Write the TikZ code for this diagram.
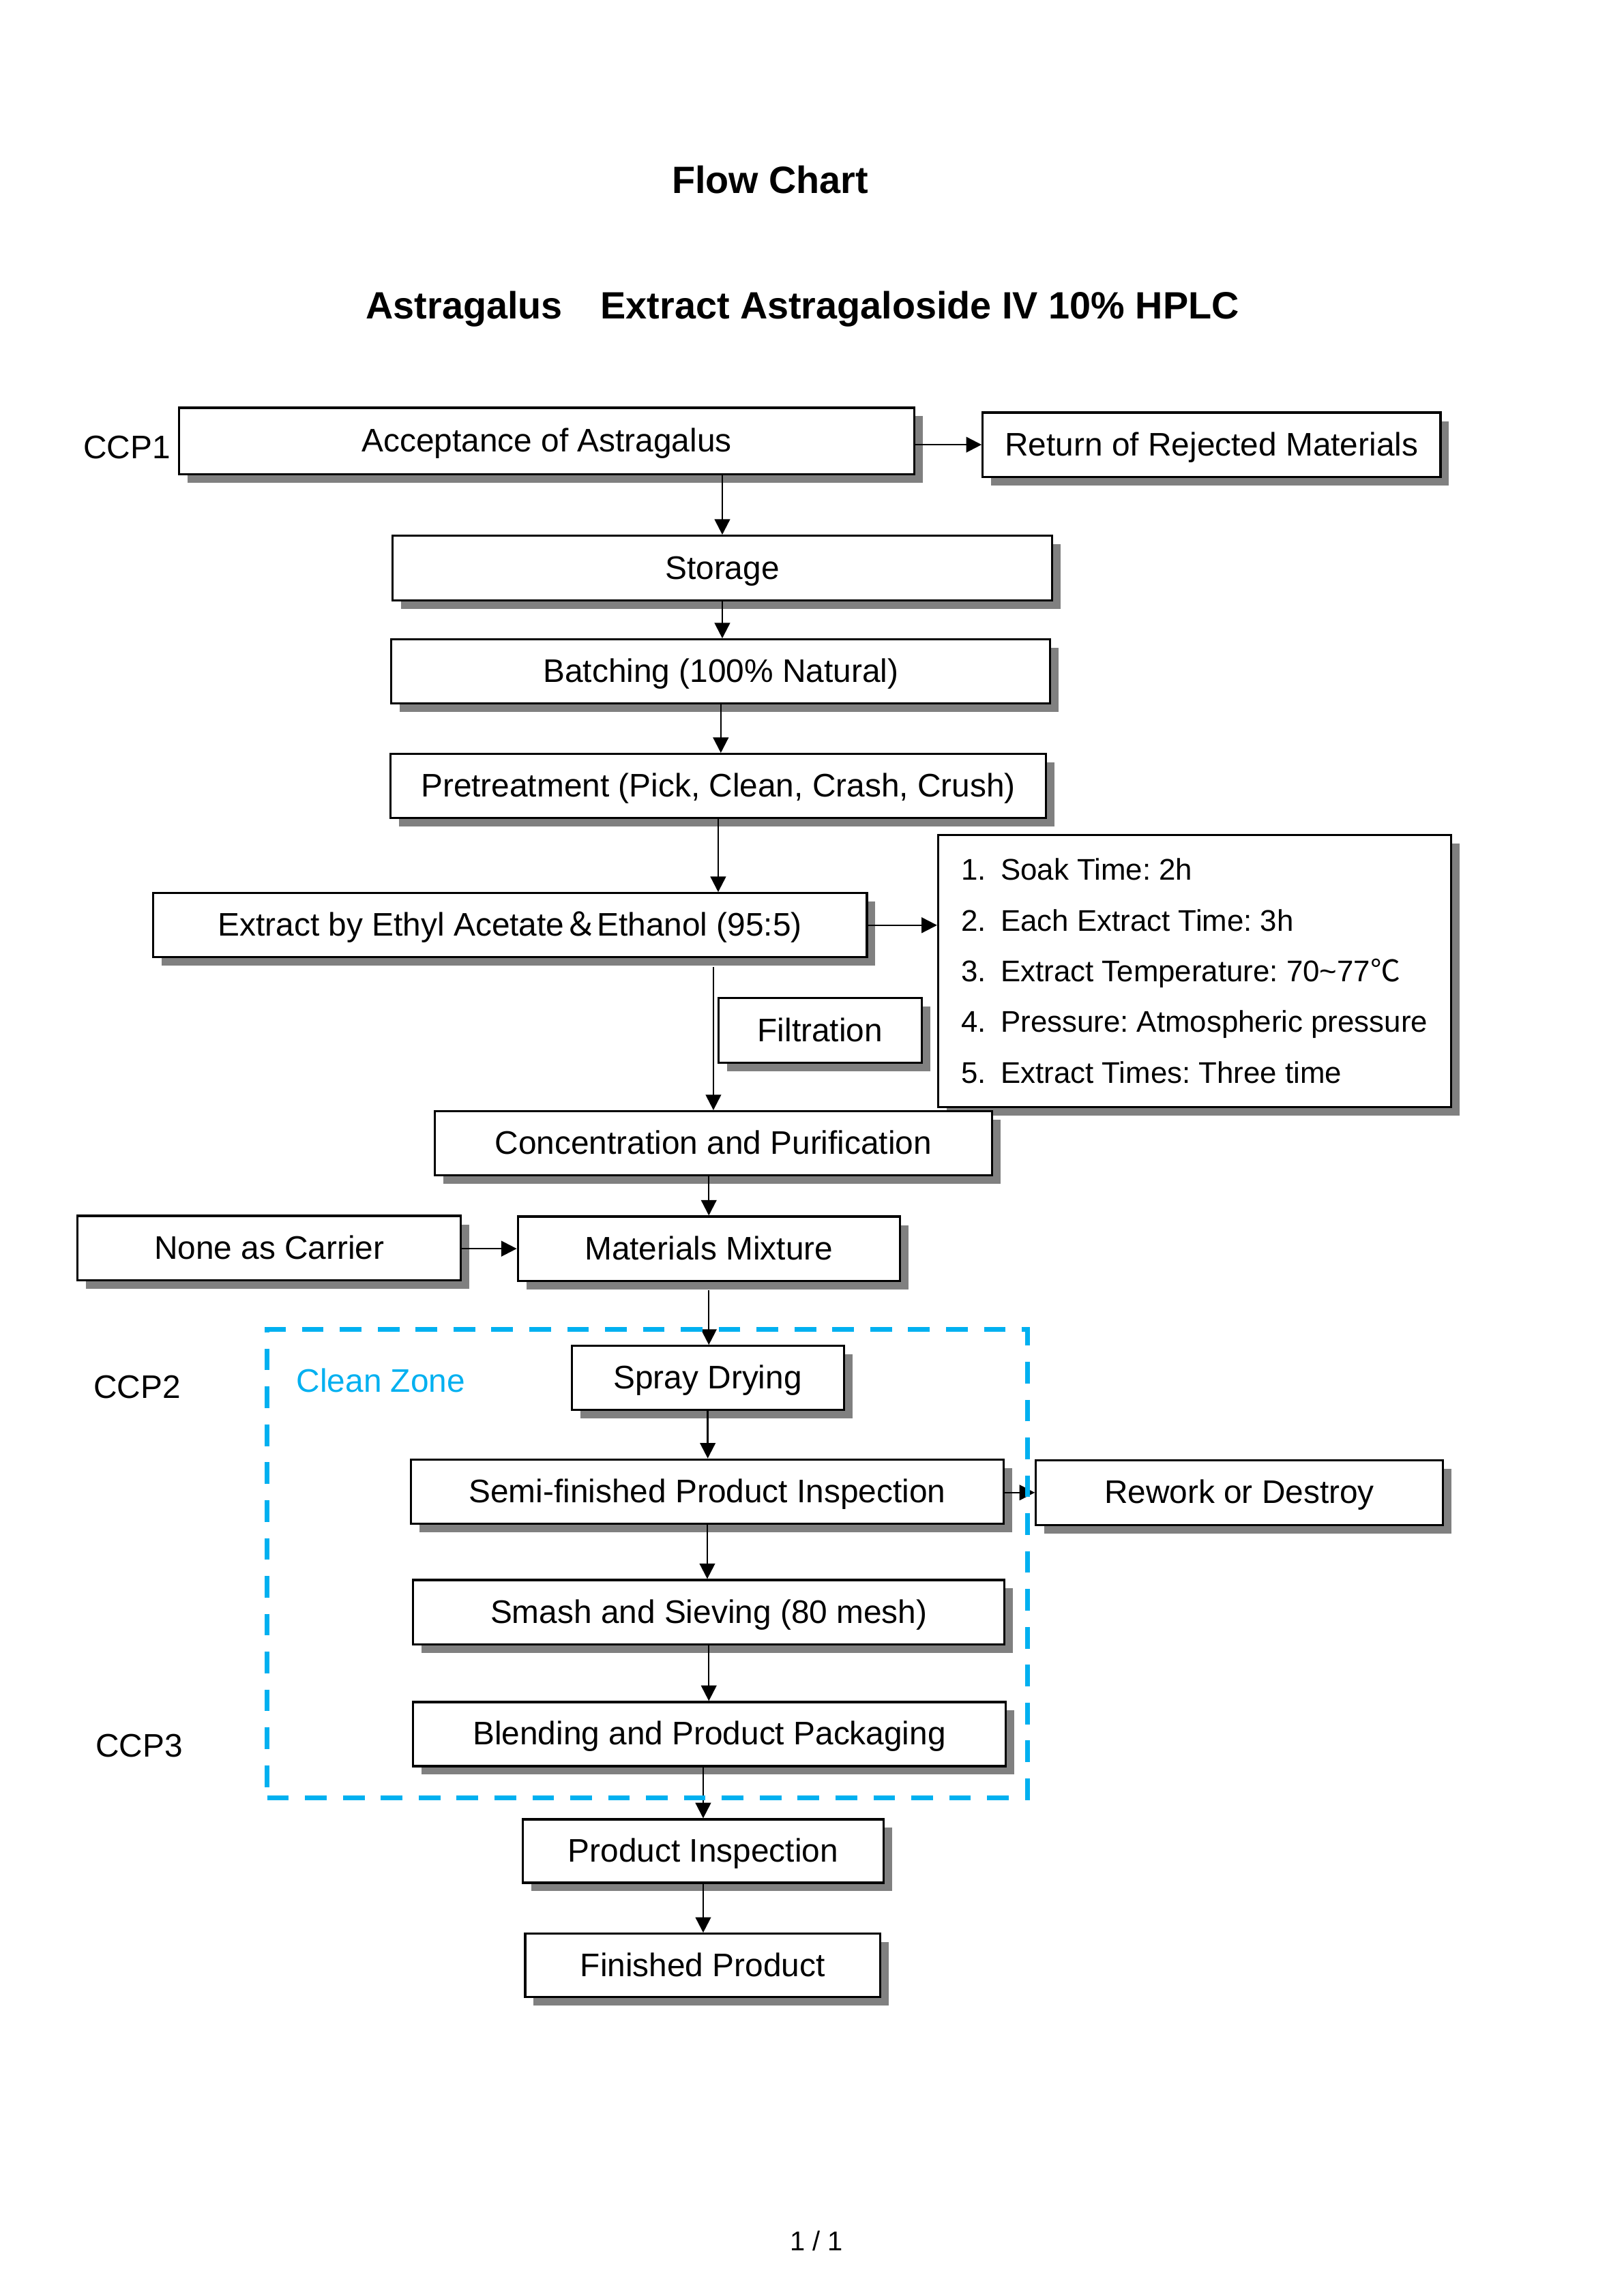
\documentclass[tikz,border=0pt]{standalone}
\usepackage{fontspec}
\setmainfont{Liberation Sans}
\newfontfamily\cjkfont{Noto Sans CJK SC}
\usepackage{tikz}
\usetikzlibrary{shadows,arrows.meta,calc}
\definecolor{shadowgray}{RGB}{128,128,128}
\definecolor{zoneblue}{RGB}{0,176,240}
\tikzset{
	flowshape/.style={draw, line width=0.8pt, fill=white, inner sep=0pt, drop shadow={shadow xshift=0.11cm, shadow yshift=-0.11cm, fill=shadowgray, opacity=1}},
	flowbox/.style={flowshape, font=\fontsize{12}{14.4}\selectfont, text height=10pt, text depth=2pt},
	flowarrow/.style={line width=0.6pt, -{Triangle[length=2mm, width=2mm]}},
	sidelabel/.style={inner sep=0pt, anchor=base west, font=\fontsize{12}{14.4}\selectfont},
	zonebox/.style={draw=zoneblue, line width=1.75pt, dash pattern=on 0.28cm off 0.21cm, inner sep=0pt},
}
\newcommand{\itemno}[1]{\makebox[5.1mm][l]{#1}}
\frenchspacing

\begin{document}
\begin{tikzpicture}
	\useasboundingbox (0, 0) rectangle (21, -29.7);
	% Boxes, labels and arrows:
	\node[inner sep=0pt, anchor=base, font=\bfseries\fontsize{14}{16.8}\selectfont] (Title) at (9.96, -2.50) {Flow Chart};
	\node[inner sep=0pt, anchor=base west, font=\bfseries\fontsize{14}{16.8}\selectfont] (Subtitle) at (4.725, -4.12) {Astragalus\hspace{14pt}Extract Astragaloside IV 10\% HPLC};
	\node[sidelabel] (CCP1) at (1.07, -5.93) {CCP1};
	\node[sidelabel] (CCP2) at (1.205, -18.09) {CCP2};
	\node[sidelabel] (CCP3) at (1.232, -22.73) {CCP3};
	\node[sidelabel, text=zoneblue] (ZoneLabel) at (3.828, -18.01) {Clean Zone};
	\node[flowbox, minimum width=9.51cm, minimum height=0.86cm] (Accept) at (7.071, -5.704) {Acceptance of Astragalus};
	\node[flowbox, minimum width=5.92cm, minimum height=0.83cm] (Reject) at (15.669, -5.752) {Return of Rejected Materials};
	\node[flowbox, minimum width=8.53cm, minimum height=0.84cm] (Storage) at (9.341, -7.350) {Storage};
	\node[flowbox, minimum width=8.52cm, minimum height=0.83cm] (Batch) at (9.322, -8.686) {Batching (100\% Natural)};
	\node[flowbox, minimum width=8.48cm, minimum height=0.83cm] (Pretreat) at (9.288, -10.168) {Pretreatment (Pick, Clean, Crash, Crush)};
	\node[flowbox, minimum width=9.23cm, minimum height=0.83cm] (Extract) at (6.596, -11.968) {Extract by Ethyl Acetate{\cjkfont ＆}Ethanol (95:5)};
	\node[flowshape, minimum width=6.63cm, minimum height=3.52cm, align=left, font=\fontsize{11}{18.65}\selectfont] (Params) at (15.448, -12.559) {\itemno{1.}Soak Time: 2h\\ \itemno{2.}Each Extract Time: 3h\\ \itemno{3.}Extract Temperature: 70\textasciitilde 77{\cjkfont ℃}\\ \itemno{4.}Pressure: Atmospheric pressure\\ \itemno{5.}Extract Times: Three time};
	\node[flowbox, minimum width=2.63cm, minimum height=0.84cm] (Filter) at (10.606, -13.329) {Filtration};
	\node[flowbox, minimum width=7.21cm, minimum height=0.83cm] (Conc) at (9.226, -14.789) {Concentration and Purification};
	\node[flowbox, minimum width=4.96cm, minimum height=0.83cm] (Carrier) at (3.482, -16.143) {None as Carrier};
	\node[flowbox, minimum width=4.94cm, minimum height=0.83cm] (Mixture) at (9.167, -16.152) {Materials Mixture};
	\node[flowbox, minimum width=3.52cm, minimum height=0.83cm] (Spray) at (9.153, -17.825) {Spray Drying};
	\node[flowbox, minimum width=7.66cm, minimum height=0.83cm] (Semi) at (9.147, -19.294) {Semi-finished Product Inspection};
	\node[flowbox, minimum width=5.26cm, minimum height=0.84cm] (Rework) at (16.027, -19.307) {Rework or Destroy};
	\node[flowbox, minimum width=7.65cm, minimum height=0.83cm] (Smash) at (9.167, -20.853) {Smash and Sieving (80 mesh)};
	\node[flowbox, minimum width=7.66cm, minimum height=0.83cm] (Blend) at (9.174, -22.431) {Blending and Product Packaging};
	\node[flowbox, minimum width=4.66cm, minimum height=0.82cm] (ProdInsp) at (9.094, -23.944) {Product Inspection};
	\node[flowbox, minimum width=4.59cm, minimum height=0.82cm] (Finished) at (9.087, -25.424) {Finished Product};
	\node[inner sep=0pt, anchor=base, font=\fontsize{10}{12}\selectfont] (PageNo) at (10.56, -29.11) {1 / 1};
	\coordinate (ExtractOut) at ($(Extract.south -| Conc.north)+(0, -0.11)$);
	\coordinate (MixtureOut) at ($(Mixture.south)+(0, -0.11)$);
	\draw[flowarrow] (Accept.south -| Storage.north) -- (Storage.north);
	\draw[flowarrow] (Accept.east |- Reject.west) -- (Reject.west);
	\draw[flowarrow] (Storage.south) -- (Storage.south |- Batch.north);
	\draw[flowarrow] (Batch.south) -- (Batch.south |- Pretreat.north);
	\draw[flowarrow] (Pretreat.south) -- (Pretreat.south |- Extract.north);
	\draw[flowarrow] (Extract.east) -- (Extract.east -| Params.west);
	\draw[flowarrow] (ExtractOut) -- (Conc.north);
	\draw[flowarrow] (Conc.south -| Mixture.north) -- (Mixture.north);
	\draw[flowarrow] (Carrier.east |- Mixture.west) -- (Mixture.west);
	\draw[flowarrow] (MixtureOut) -- (MixtureOut |- Spray.north);
	\draw[flowarrow] (Spray.south) -- (Spray.south |- Semi.north);
	\draw[flowarrow] (Semi.east |- Rework.west) -- (Rework.west);
	\draw[flowarrow] (Semi.south) -- (Semi.south |- Smash.north);
	\draw[flowarrow] (Smash.south) -- (Smash.south |- Blend.north);
	\draw[flowarrow] (Blend.south -| ProdInsp.north) -- (ProdInsp.north);
	\draw[flowarrow] (ProdInsp.south) -- (ProdInsp.south |- Finished.north);
	\node[zonebox, minimum width=9.83cm, minimum height=6.06cm] (CleanZone) at (8.37, -20.225) {};
\end{tikzpicture}
\end{document}
